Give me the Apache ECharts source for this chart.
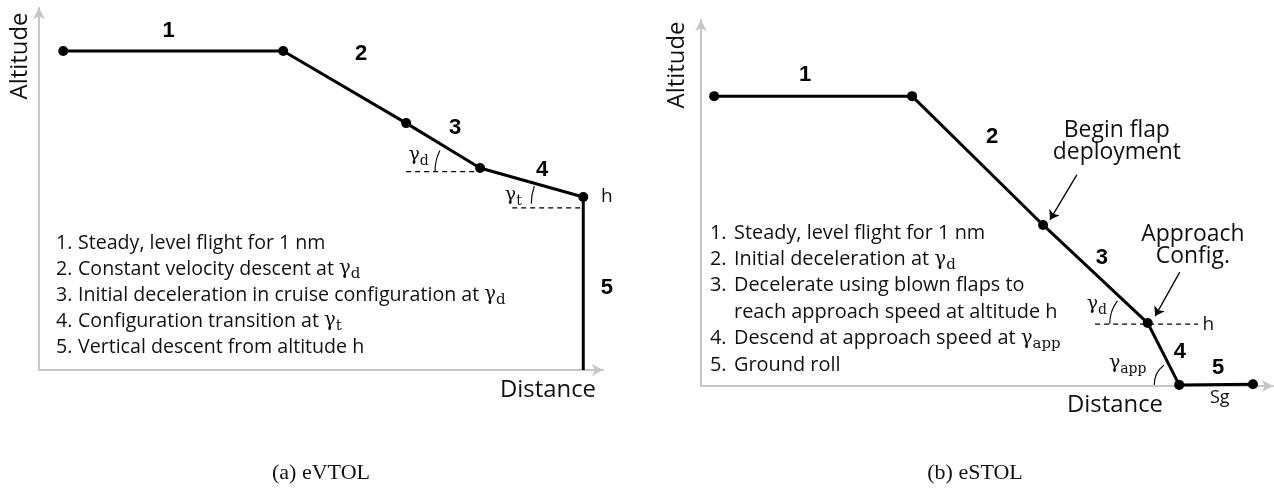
<!DOCTYPE html>
<html><head><meta charset="utf-8">
<script src="https://cdn.jsdelivr.net/npm/echarts@6/dist/echarts.min.js"></script>
<style>html,body{margin:0;padding:0;background:#fff}#c{width:1274px;height:489px}</style>
</head><body><div id="c"></div><script>
// ---------- Panel (a) eVTOL ----------
const evtolX = [4.3, 43.3, 65.1, 78.2, 96.5, 96.5];
const evtolY = [88.1, 88.1, 68.2, 55.8, 47.8, 0];
const evtolDashX = [[65.1, 78.2], [83.9, 96.5]];
const evtolDashY = [54.8, 44.8];
const evtolSegNames = ['1', '2', '3', '4', '5'];
const evtolSegX = [23.0, 57.1, 73.8, 89.2, 100.7];
const evtolSegY = [93.6, 87.3, 66.9, 55.2, 22.7];
const evtolAngleNames = ['{g|γ}{s|d}', '{g|γ}{s|t}', 'h'];
const evtolAngleX = [67.3, 84.1, 100.7];
const evtolAngleY = [59.4, 48.3, 47.8];
// arcs: centre x, centre y, start deg, end deg
const evtolArcX = [78.2, 96.5];
const evtolArcY = [55.0, 45.9];
const evtolArcDeg = [[180, 207], [180, 200]];
const evtolLegend = [
  ['1.', 'Steady, level flight for 1 nm'],
  ['2.', 'Constant velocity descent at {g|γ}{s|d}'],
  ['3.', 'Initial deceleration in cruise configuration at {g|γ}{s|d}'],
  ['4.', 'Configuration transition at {g|γ}{s|t}'],
  ['5.', 'Vertical descent from altitude h']
];

// ---------- Panel (b) eSTOL ----------
const estolX = [2.3, 36.9, 59.8, 78.1, 83.6, 96.5];
const estolY = [79.2, 79.2, 44.0, 17.2, 0.3, 0.5];
const estolDashX = [[68.9, 86.9]];
const estolDashY = [16.9];
const estolSegNames = ['1', '2', '3', '4', '5', 'Sg'];
const estolSegX = [18.2, 50.9, 70.1, 83.7, 90.4, 90.7];
const estolSegY = [85.0, 68.0, 35.0, 9.3, 4.9, -3.3];
const estolAngleNames = ['{g|γ}{s|d}', '{g|γ}{s|app}', 'h'];
const estolAngleX = [69.2, 74.6, 88.7];
const estolAngleY = [22.4, 6.3, 16.9];
const estolArcX = [78.1, 83.6];
const estolArcY = [17.0, 0.3];
const estolArcDeg = [[180, 217], [180, 232]];
const estolNotes = ['Begin flap\ndeployment', 'Approach\nConfig.'];
const estolNoteX = [72.7, 86.0];
const estolNoteY = [66.9, 38.5];
const estolArrowFrom = [[65.7, 57.7], [83.7, 31.1]];
const estolArrowTo = [[61.0, 45.4], [79.4, 19.1]];
const estolLegend = [
  ['1.', 'Steady, level flight for 1 nm'],
  ['2.', 'Initial deceleration at {g|γ}{s|d}'],
  ['3.', 'Decelerate using blown flaps to'],
  ['', 'reach approach speed at altitude h'],
  ['4.', 'Descend at approach speed at {g|γ}{s|app}'],
  ['5.', 'Ground roll']
];

const axisTitles = ['Altitude', 'Distance'];
const captions = ['(a) eVTOL', '(b) eSTOL'];

// ---------- build ----------
const SANS = 'Open Sans';
const mctx = document.createElement('canvas').getContext('2d');
function fitSize(text, family, weight, target) {
  mctx.font = weight + ' 100px "' + family + '"';
  return Math.round(1000 * target / mctx.measureText(text).width) / 10;
}
const legSizeL = fitSize('Steady, level flight for 1 nm', SANS, 'normal', 247);
const legSizeR = fitSize('Steady, level flight for 1 nm', SANS, 'normal', 251);
const titleSize = fitSize('Distance', SANS, 'normal', 96);
const noteSize = fitSize('Begin flap', SANS, 'normal', 106);
const capSize = fitSize('(a) eVTOL', 'Liberation Serif', 'normal', 98);

function richSub(size) {
  return {
    g: { fontFamily: 'DejaVu Serif', fontSize: size, lineHeight: 26, verticalAlign: 'middle' },
    s: { fontFamily: 'DejaVu Serif', fontSize: Math.round(size * 0.74), lineHeight: 26, verticalAlign: 'bottom' }
  };
}

function axes(gi) {
  const line = { show: true, onZero: false, symbol: ['none', 'arrow'], symbolSize: [9, 11],
    lineStyle: { color: '#c6c6c6', width: 2 } };
  return {
    x: { gridIndex: gi, type: 'value', min: 0, max: 100, axisLine: line, axisTick: { show: false },
      axisLabel: { show: false }, splitLine: { show: false } },
    y: { gridIndex: gi, type: 'value', min: 0, max: 100, axisLine: line, axisTick: { show: false },
      axisLabel: { show: false }, splitLine: { show: false } }
  };
}

function pathSeries(gi, xs, ys, lastNoDot) {
  return {
    type: 'line', xAxisIndex: gi, yAxisIndex: gi, z: 4, silent: true,
    data: xs.map((x, i) => {
      const it = { value: [x, ys[i]] };
      if (lastNoDot && i === xs.length - 1) it.symbol = 'none';
      return it;
    }),
    symbol: 'circle', symbolSize: 10, showSymbol: true,
    itemStyle: { color: '#000' }, lineStyle: { color: '#000', width: 3 }
  };
}
function dashSeries(gi, xr, yv) {
  return {
    type: 'line', xAxisIndex: gi, yAxisIndex: gi, z: 3, silent: true, symbol: 'none',
    data: [[xr[0], yv], [xr[1], yv]],
    lineStyle: { color: '#000', width: 1.2, type: [5, 4] }
  };
}
function arcSeries(gi, xs, ys, degs, radii) {
  return {
    type: 'custom', xAxisIndex: gi, yAxisIndex: gi, clip: false, silent: true, z: 3,
    data: xs.map((x, i) => [x, ys[i]]),
    renderItem: (params, api) => {
      const p = api.coord([api.value(0), api.value(1)]);
      const d = degs[params.dataIndex];
      return { type: 'arc', shape: { cx: p[0], cy: p[1], r: radii[params.dataIndex],
        startAngle: d[0] * Math.PI / 180, endAngle: d[1] * Math.PI / 180, clockwise: true },
        style: { stroke: '#000', fill: null, lineWidth: 1.1 } };
    }
  };
}
function textSeries(gi, xs, ys, texts, style) {
  return {
    type: 'custom', xAxisIndex: gi, yAxisIndex: gi, clip: false, silent: true, z: 6,
    data: xs.map((x, i) => [x, ys[i]]),
    renderItem: (params, api) => {
      const p = api.coord([api.value(0), api.value(1)]);
      return { type: 'text', x: p[0], y: p[1],
        style: Object.assign({ text: texts[params.dataIndex], align: 'center', verticalAlign: 'middle' }, style) };
    }
  };
}
function arrowSeries(gi, from, to) {
  return {
    type: 'lines', coordinateSystem: 'cartesian2d', xAxisIndex: gi, yAxisIndex: gi, silent: true, z: 5,
    symbol: ['none', 'arrow'], symbolSize: 9,
    lineStyle: { color: '#000', width: 1.3, opacity: 1 },
    data: from.map((f, i) => ({ coords: [f, to[i]] }))
  };
}

const segStyle = { fontFamily: 'Liberation Sans', fontWeight: 'bold', fontSize: 22, fill: '#000' };
const angStyle = { fontFamily: SANS, fontSize: 19, fill: '#111', rich: richSub(19) };
const noteStyle = { fontFamily: SANS, fontSize: noteSize, lineHeight: 22, fill: '#111' };

const a0 = axes(0), a1 = axes(1);

const series = [
  dashSeries(0, evtolDashX[0], evtolDashY[0]),
  dashSeries(0, evtolDashX[1], evtolDashY[1]),
  pathSeries(0, evtolX, evtolY, true),
  arcSeries(0, evtolArcX, evtolArcY, evtolArcDeg, [45, 52]),
  textSeries(0, evtolSegX, evtolSegY, evtolSegNames, segStyle),
  textSeries(0, evtolAngleX, evtolAngleY, evtolAngleNames, angStyle),

  dashSeries(1, estolDashX[0], estolDashY[0]),
  pathSeries(1, estolX, estolY, false),
  arcSeries(1, estolArcX, estolArcY, estolArcDeg, [38, 25]),
  textSeries(1, estolSegX.slice(0, 5), estolSegY.slice(0, 5), estolSegNames.slice(0, 5), segStyle),
  textSeries(1, estolSegX.slice(5), estolSegY.slice(5), estolSegNames.slice(5),
    { fontFamily: SANS, fontSize: 18, fill: '#111' }),
  textSeries(1, estolAngleX, estolAngleY, estolAngleNames, angStyle),
  textSeries(1, estolNoteX, estolNoteY, estolNotes, noteStyle),
  arrowSeries(1, estolArrowFrom, estolArrowTo)
];

function legendGraphic(x0, y0, dy, off, lines, size) {
  const els = [];
  lines.forEach((ln, i) => {
    const y = y0 + i * dy;
    if (ln[0]) els.push({ type: 'text', x: x0, y: y, silent: true,
      style: { text: ln[0], fontFamily: SANS, fontSize: size, fill: '#111', verticalAlign: 'middle' } });
    els.push({ type: 'text', x: x0 + off, y: y, silent: true,
      style: { text: ln[1], fontFamily: SANS, fontSize: size, fill: '#111', verticalAlign: 'middle',
        lineHeight: 26, rich: richSub(size) } });
  });
  return els;
}

function txt(x, y, text, family, size, rot) {
  const el = { type: 'text', x: x, y: y, silent: true,
    style: { text: text, fontFamily: family, fontSize: size, fill: '#111', align: 'center', verticalAlign: 'middle' } };
  if (rot) el.rotation = rot;
  return el;
}

const graphic = [].concat(
  legendGraphic(56, 243, 26, 22, evtolLegend, legSizeL),
  legendGraphic(710, 233, 26.4, 24, estolLegend, legSizeR),
  [
    txt(20, 56, axisTitles[0], SANS, titleSize, Math.PI / 2),
    txt(677, 65, axisTitles[0], SANS, titleSize, Math.PI / 2),
    txt(548, 390, axisTitles[1], SANS, titleSize),
    txt(1115, 405, axisTitles[1], SANS, titleSize),
    txt(321, 473, captions[0], 'Liberation Serif', capSize),
    txt(975, 473, captions[1], 'Liberation Serif', capSize)
  ]
);

const chart = echarts.init(document.getElementById('c'), null, { renderer: 'canvas' });
chart.setOption({
  animation: false,
  backgroundColor: '#fff',
  grid: [
    { left: 39, top: 8, width: 564, height: 362 },
    { left: 701, top: 20, width: 572, height: 366 }
  ],
  xAxis: [a0.x, a1.x],
  yAxis: [a0.y, a1.y],
  series: series,
  graphic: graphic
});
</script></body></html>
